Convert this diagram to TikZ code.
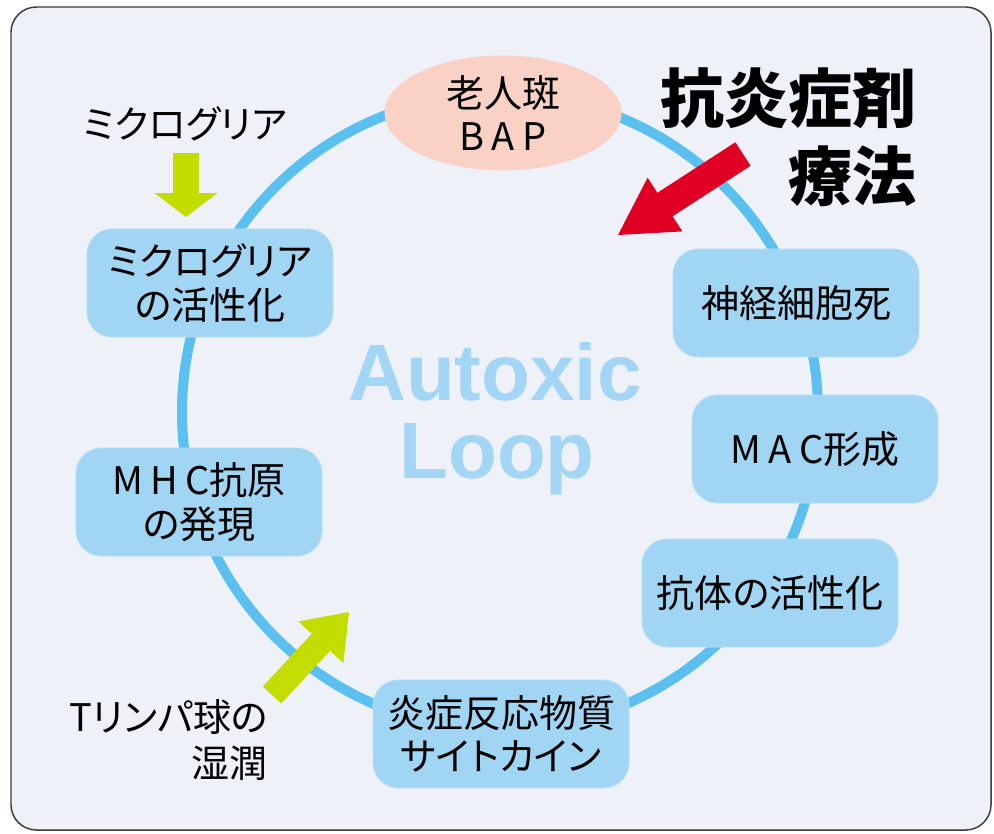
\documentclass[tikz,border=0pt]{standalone}
\usepackage{fontspec}
\setmainfont{Noto Sans CJK JP}[RawFeature=+palt]
\newfontfamily\latinbold{Liberation Sans}
\usetikzlibrary{calc,shapes.geometric}
\definecolor{bgc}{HTML}{EEF1F8}
\definecolor{framec}{HTML}{3A3A3A}
\definecolor{loopc}{HTML}{5BC0F0}
\definecolor{boxc}{HTML}{A0D5F3}
\definecolor{boxline}{HTML}{B4DEF6}
\definecolor{plaquec}{HTML}{FAD1C5}
\definecolor{autoxc}{HTML}{A3D6F5}
\definecolor{redc}{HTML}{E00024}
\definecolor{greenc}{HTML}{C4DD00}
\newcommand\lsp[1]{{\addfontfeature{LetterSpace=20}#1}}
% #1 colour, #2 tail, #3 tip, #4 half shaft, #5 half head, #6 head length
\newcommand\blockarrow[6]{%
  \coordinate (#2hb) at ($(#3)!#6!(#2)$);
  \fill[#1] ($(#2)!#4!90:(#3)$) -- ($(#2hb)!#4!90:(#3)$) -- ($(#2hb)!#5!90:(#3)$)
    -- (#3) -- ($(#2hb)!#5!-90:(#3)$) -- ($(#2hb)!#4!-90:(#3)$) -- ($(#2)!#4!-90:(#3)$) -- cycle;}
\tikzset{
  stagebox/.style={draw=boxline, line width=0.6pt, fill=boxc, rounded corners=19pt,
    minimum width=184.5pt, minimum height=81pt, align=center, inner sep=0pt,
    font=\fontsize{28.5pt}{32.5pt}\selectfont},
  plainlabel/.style={font=\fontsize{28.5pt}{34pt}\selectfont, inner sep=0pt},
  titlelabel/.style={font=\bfseries\fontsize{48pt}{58pt}\selectfont, inner sep=0pt, anchor=east},
  autoxlabel/.style={font=\latinbold\bfseries\fontsize{60pt}{60pt}\selectfont, text=autoxc, inner sep=0pt, anchor=base}
}
\begin{document}
\begin{tikzpicture}[x=0.75pt,y=-0.75pt]
\useasboundingbox (0,0) rectangle (994,833);
\draw[fill=bgc, draw=framec, line width=1.1pt, rounded corners=19pt] (11,7) rectangle (991,830);
% the loop
\coordinate (loopc) at (500,412);
\draw[loopc, line width=7.5pt] (loopc) circle[x radius=318, y radius=318];
% stages
\node[ellipse, fill=plaquec, minimum width=177.75pt, minimum height=86.25pt, inner sep=0pt,
  align=center, font=\fontsize{28.5pt}{32.5pt}\selectfont] (bap) at (503,113) {老人斑\\\lsp{BAP}};
\node[stagebox] (nd) at (796,303) {神経細胞死};
\node[stagebox] (mac) at (815,449) {\lsp{MAC}形成};
\node[stagebox, minimum width=192pt] (ab) at (770,593) {抗体の活性化};
\node[stagebox, minimum width=192pt] (cyt) at (501,734) {炎症反応物質\\サイトカイン};
\node[stagebox] (mhc) at (199,502) {\lsp{MHC}抗原\\の発現};
\node[stagebox] (mg) at (210,283) {ミクログリア\\の活性化};
% centre text
\node[autoxlabel] (autox) at (495,400) {Autoxic};
\node[autoxlabel] (loopt) at (497,478) {Loop};
% title
\node[titlelabel] (t1) at (917,98) {抗炎症剤};
\node[titlelabel] (t2) at (917,176) {療法};
% side labels
\node[plainlabel] (mglab) at (185,124) {ミクログリア};
\node[plainlabel, align=right, anchor=east] (tlab) at (268,740) {Tリンパ球の\\湿潤};
% block arrows
\coordinate (rtail) at (743,154);
\coordinate (rtip) at (618,235);
\blockarrow{redc}{rtail}{rtip}{10.5pt}{24pt}{42pt}
\coordinate (gtail) at (186,153);
\coordinate (gtip) at (186,217);
\blockarrow{greenc}{gtail}{gtip}{9.75pt}{23.6pt}{18pt}
\coordinate (htail) at (272,695);
\coordinate (htip) at (349,612);
\blockarrow{greenc}{htail}{htip}{9.4pt}{23pt}{31pt}
\end{tikzpicture}
\end{document}
